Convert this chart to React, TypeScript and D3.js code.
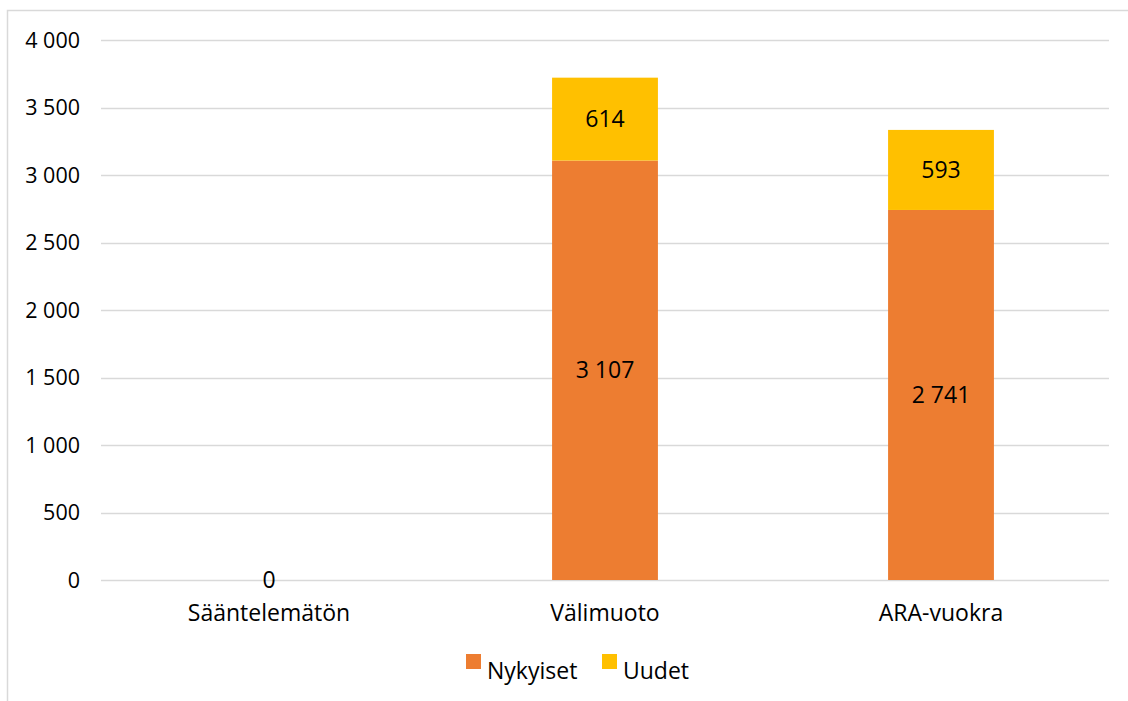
import React from 'react';
import { scaleLinear, scaleBand, stack, format } from 'd3';

const categories = ['Sääntelemätön', 'Välimuoto', 'ARA-vuokra'];
const nykyiset = [0, 3107, 2741];
const uudet = [0, 614, 593];
const seriesNames = ['Nykyiset', 'Uudet'];
const colors = ['#ED7D31', '#FFC000'];
const yTicks = [0, 500, 1000, 1500, 2000, 2500, 3000, 3500, 4000];

const W = 1128;
const H = 701;
const font = "'Open Sans', 'Noto Sans', sans-serif";

const fmt = (v: number) => format(',')(v).replace(/,/g, ' ');

const App: React.FC = () => {
  const rows = categories.map((c, i) => ({ cat: c, Nykyiset: nykyiset[i], Uudet: uudet[i] }));
  const layers = stack<any>().keys(seriesNames)(rows);

  const x = scaleBand().domain(categories).range([101, 1109]).padding(0);
  const barW = x.bandwidth() * 0.315;
  const y = scaleLinear().domain([0, 4000]).range([580, 40]);

  return (
    <svg width={W} height={H} style={{ position: 'absolute', left: 0, top: 0 }}>
      <rect x={0} y={0} width={W} height={H} fill="#fff" />
      <rect x={7.5} y={10.5} width={1130} height={700} fill="none" stroke="#D9D9D9" strokeWidth={1.5} />
      {yTicks.map(t => (
        <g key={t}>
          <line x1={101} x2={1109} y1={Math.round(y(t)) + 0.5} y2={Math.round(y(t)) + 0.5} stroke="#D9D9D9" strokeWidth={1.5} />
          <text x={80} y={y(t)} dy="0.35em" textAnchor="end" fontFamily={font} fontSize={21.5} fill="#000">{fmt(t)}</text>
        </g>
      ))}
      {layers.map((layer, li) => (
        <g key={layer.key} fill={colors[li]}>
          {layer.map((d, i) => {
            const h = y(d[0]) - y(d[1]);
            if (h <= 0) return null;
            return (
              <rect key={i} x={x(categories[i])! + (x.bandwidth() - barW) / 2} y={y(d[1])} width={barW} height={h} />
            );
          })}
        </g>
      ))}
      {layers.map((layer, li) => (
        <g key={'l' + layer.key}>
          {layer.map((d, i) => {
            const v = d[1] - d[0];
            if (v === 0 && li > 0) return null;
            return (
              <text key={i} x={x(categories[i])! + x.bandwidth() / 2} y={(y(d[0]) + y(d[1])) / 2} dy="0.35em"
                textAnchor="middle" fontFamily={font} fontSize={23} fill="#000">{fmt(v)}</text>
            );
          })}
        </g>
      ))}
      {categories.map(c => (
        <text key={c} x={x(c)! + x.bandwidth() / 2} y={613} dy="0.35em" textAnchor="middle" fontFamily={font} fontSize={23} fill="#000">{c}</text>
      ))}
      <g>
        <rect x={466} y={654} width={15} height={15} fill={colors[0]} />
        <text x={487} y={671} dy="0.35em" fontFamily={font} fontSize={23} fill="#000">{seriesNames[0]}</text>
        <rect x={602} y={654} width={15} height={15} fill={colors[1]} />
        <text x={623} y={671} dy="0.35em" fontFamily={font} fontSize={23} fill="#000">{seriesNames[1]}</text>
      </g>
    </svg>
  );
};

export default App;
